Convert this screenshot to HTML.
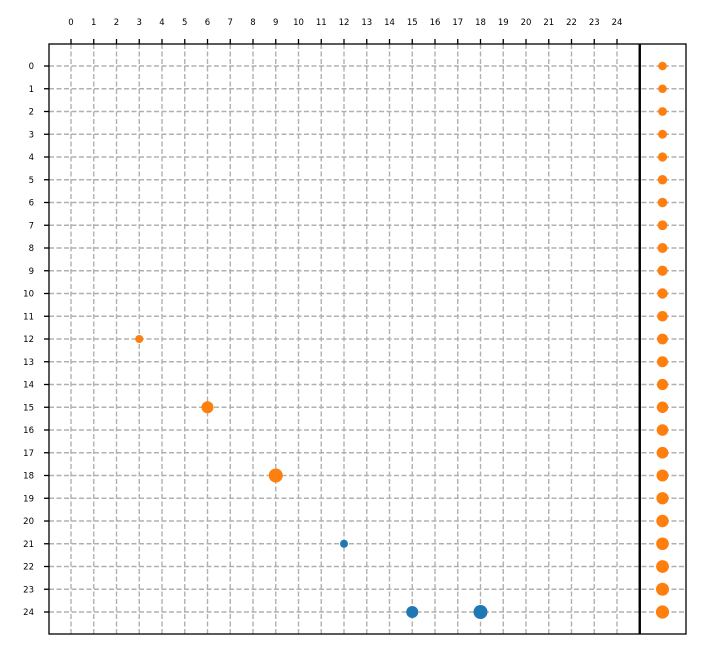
<!DOCTYPE html>
<html><head><meta charset="utf-8"><style>
html,body{margin:0;padding:0;background:#fff;}
svg{display:block;font-family:"DejaVu Sans","Liberation Sans",sans-serif;}
</style></head><body>
<svg id="chart" width="701" height="651" xmlns="http://www.w3.org/2000/svg"></svg>
<script>
const columns = [0,1,2,3,4,5,6,7,8,9,10,11,12,13,14,15,16,17,18,19,20,21,22,23,24];
const rows = [0,1,2,3,4,5,6,7,8,9,10,11,12,13,14,15,16,17,18,19,20,21,22,23,24];
const orangeX = [3,6,9];
const orangeY = [12,15,18];
const orangeR = [4,6,7];
const blueX = [12,15,18];
const blueY = [21,24,24];
const blueR = [4,6,7];
const sideRowR = [4.3,4.3,4.4,4.5,4.6,4.7,4.8,4.9,5,5.1,5.2,5.3,5.4,5.5,5.6,5.7,5.8,5.9,6,6.1,6.2,6.3,6.4,6.5,6.6];

const svg = document.getElementById('chart');
const NS = 'http://www.w3.org/2000/svg';
const x0 = 71, step = 22.75, y0 = 66;
function xs(v){ return x0 + v*step; }
function ys(v){ return y0 + v*step; }
function mk(tag, attrs, parent){
  const e = document.createElementNS(NS, tag);
  for (const k in attrs) e.setAttribute(k, attrs[k]);
  (parent||svg).appendChild(e);
  return e;
}
const L=49,R=686,T=44,B=634;
const grid = mk('g', {});


columns.forEach(c=>{
  const l = mk('line',{x1:xs(c),x2:xs(c),y1:T,y2:B,stroke:'#b0b0b0','stroke-width':1.4,'stroke-dasharray':'5,2.5'},grid);
  
  
});
rows.forEach(r=>{
  const l = mk('line',{x1:L,x2:R,y1:ys(r),y2:ys(r),stroke:'#b0b0b0','stroke-width':1.4,'stroke-dasharray':'5,2.5'},grid);
  
  
});
const frame = mk('rect',{x:L,y:T,width:R-L,height:B-T,fill:'none',stroke:'#000','stroke-width':1.3});


const sep = mk('line',{x1:xs(25),x2:xs(25),y1:T,y2:B,stroke:'#000','stroke-width':2.4});


columns.forEach(c=>{
  const t = mk('line',{x1:xs(c),x2:xs(c),y1:T-5,y2:T,stroke:'#000','stroke-width':1.3});
  
  
  const tx = mk('text',{x:xs(c),y:25,'font-size':8.5,'text-anchor':'middle',fill:'#000'});
  tx.textContent = c;
  
  
});
rows.forEach(r=>{
  const t = mk('line',{x1:L-5,x2:L,y1:ys(r),y2:ys(r),stroke:'#000','stroke-width':1.3});
  
  
  const tx = mk('text',{x:34,y:ys(r)+3,'font-size':8.5,'text-anchor':'end',fill:'#000'});
  tx.textContent = r;
  
  
});
orangeX.forEach((v,i)=>{
  const c = mk('circle',{cx:xs(v),cy:ys(orangeY[i]),r:orangeR[i],fill:'#ff7f0e'});
  
  
});
blueX.forEach((v,i)=>{
  const c = mk('circle',{cx:xs(v),cy:ys(blueY[i]),r:blueR[i],fill:'#1f77b4'});
  
  
});
rows.forEach((r,i)=>{
  const c = mk('circle',{cx:xs(26),cy:ys(r),r:sideRowR[i],fill:'#ff7f0e'});
  
  
});
</script>
</body></html>
